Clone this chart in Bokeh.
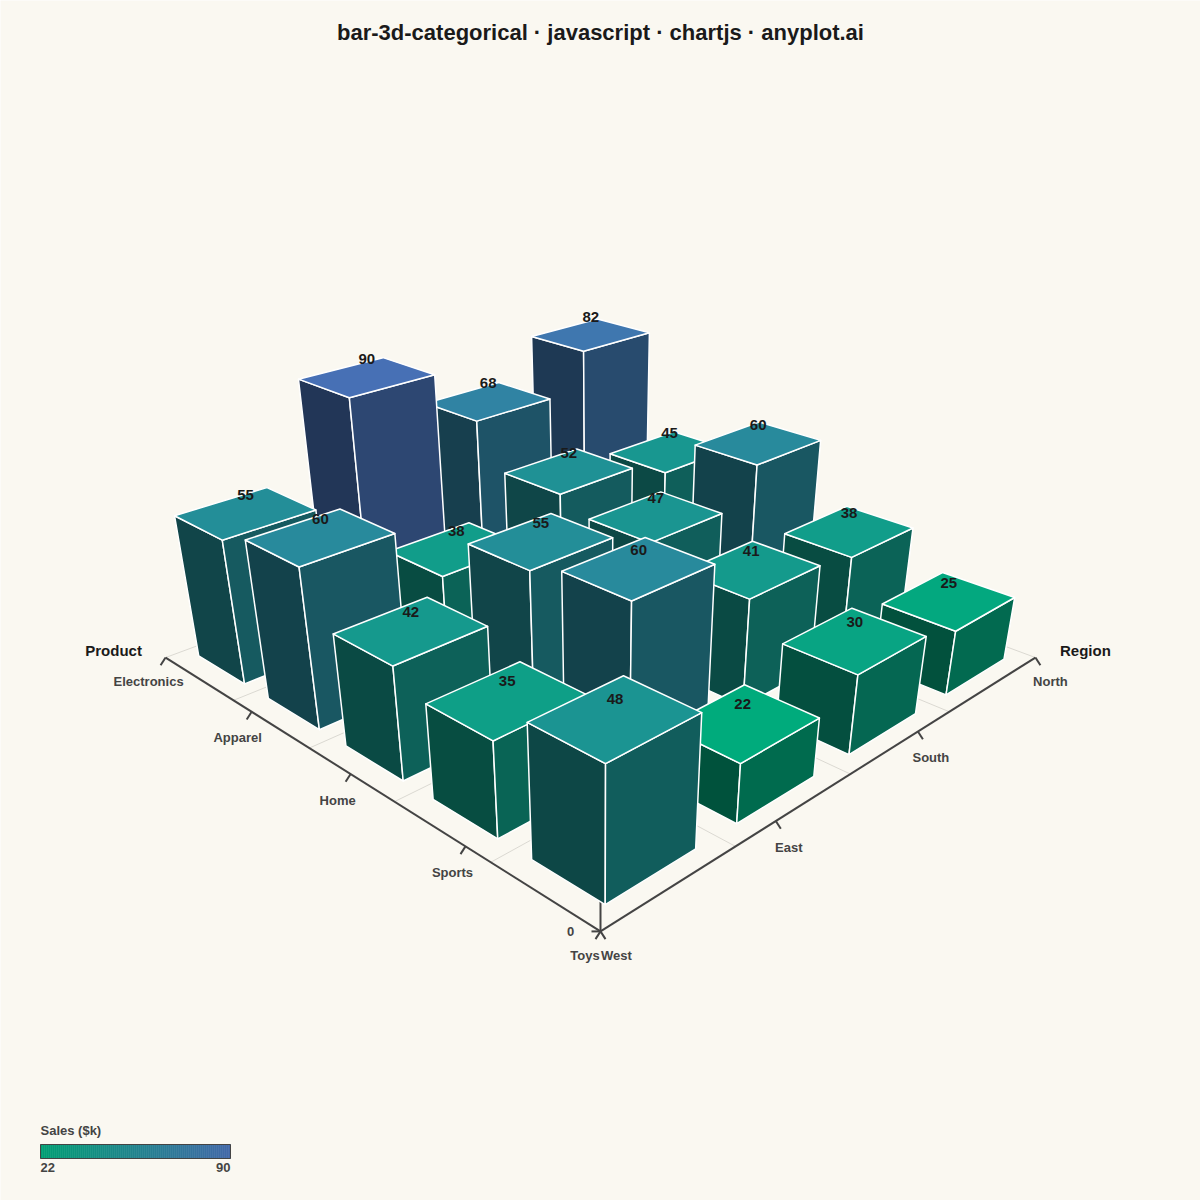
import math
from bokeh.plotting import figure
from bokeh.embed import file_html
from bokeh.resources import INLINE
from bokeh.core.properties import value

TITLE = "bar-3d-categorical · javascript · chartjs · anyplot.ai"
products = ["Electronics", "Apparel", "Home", "Sports", "Toys"]
regions = ["North", "South", "East", "West"]
electronics = [82, 68, 90, 55]
apparel = [45, 52, 38, 60]
home = [60, 47, 55, 42]
sports = [38, 41, 60, 35]
toys = [25, 30, 22, 48]
sales = [electronics, apparel, home, sports, toys]
legend_title = "Sales ($k)"
low_color = (0, 158, 115)
high_color = (66, 104, 168)
BG = "#FAF8F1"
INK = "#444444"
DARK = "#1A1A1A"
FONT = value("Liberation Sans")

# pinhole camera looking along the floor diagonal
PITCH = math.radians(30.9)
SN, CS = math.sin(PITCH), math.cos(PITCH)
SN_Z = 0.55
DIST, FOCAL, CX, CY, Z_SHIFT = 4.676, 1438.0, 600.0, 736.2, 0.3
Z_PER_UNIT = 0.0088
Z_DEPTH_GAIN = 0.025
BAR_FILL = 0.67


def project(u, v, z=0.0):
    """u: floor position along Product, v: along Region, both -1..1; z: height."""
    r = (v - u) / math.sqrt(2)
    s = (u + v) / math.sqrt(2)
    yc = (z + Z_SHIFT) * CS + s * SN
    zc = DIST + s * CS - z * SN_Z
    return CX + FOCAL * r / zc, CY - FOCAL * yc / zc


def mix(val, gain):
    t = (val - 22) / (90 - 22)
    return "#%02x%02x%02x" % tuple(
        min(255, round((a + (b - a) * t) * gain)) for a, b in zip(low_color, high_color)
    )


p = figure(width=1200, height=1200, x_range=(0, 1200), y_range=(1200, 0),
           x_axis_type=None, y_axis_type=None, toolbar_location=None,
           output_backend="svg", min_border=0, outline_line_color=None,
           background_fill_color=BG, border_fill_color=BG)
p.grid.visible = False

np_, nr = len(products), len(regions)

# floor grid
gx0, gy0, gx1, gy1 = [], [], [], []
for i in range(np_ + 1):
    u = -1 + 2 * i / np_
    a, b = project(u, -1), project(u, 1)
    gx0.append(a[0]); gy0.append(a[1]); gx1.append(b[0]); gy1.append(b[1])
for j in range(nr + 1):
    v = -1 + 2 * j / nr
    a, b = project(-1, v), project(1, v)
    gx0.append(a[0]); gy0.append(a[1]); gx1.append(b[0]); gy1.append(b[1])
p.segment(gx0, gy0, gx1, gy1, line_color="#DBD9D2", line_width=1)

# axes
origin = project(-1, -1)
left_end, right_end = project(1, -1), project(-1, 1)
top_end = project(-1, -1, 90 * Z_PER_UNIT)
ax0, ay0, ax1, ay1 = [], [], [], []
for end in (left_end, right_end, top_end):
    ax0.append(origin[0]); ay0.append(origin[1]); ax1.append(end[0]); ay1.append(end[1])
ax0.append(origin[0]); ay0.append(origin[1]); ax1.append(origin[0] - 9); ay1.append(origin[1])

product_nudge = [(-17, 24), (-14, 26), (-13, 26), (-13, 26), (-15.5, 24)]
region_nudge = [(15, 24), (13, 26), (13, 26), (16, 24)]
lx, ly, lt = [], [], []
for i, name in enumerate(products):
    u = 1 - 2 * i / (np_ - 1)
    t = project(u, -1)
    ax0.append(t[0]); ay0.append(t[1]); ax1.append(t[0] - 5); ay1.append(t[1] + 7.7)
    lx.append(t[0] + product_nudge[i][0]); ly.append(t[1] + product_nudge[i][1]); lt.append(name)
for j, name in enumerate(regions):
    v = 1 - 2 * j / (nr - 1)
    t = project(-1, v)
    ax0.append(t[0]); ay0.append(t[1]); ax1.append(t[0] + 5); ay1.append(t[1] + 7.7)
    lx.append(t[0] + region_nudge[j][0]); ly.append(t[1] + region_nudge[j][1]); lt.append(name)
p.segment(ax0, ay0, ax1, ay1, line_color=INK, line_width=2)

# bars, far ones first
bars = []
for i in range(np_):
    for j in range(nr):
        cu = 1 - 2 * (i + 0.5) / np_
        cv = 1 - 2 * (j + 0.5) / nr
        bars.append((cu + cv, cu, cv, sales[i][j]))
bars.sort(key=lambda b: -b[0])

hu, hv = BAR_FILL / np_, BAR_FILL / nr
fx, fy, fc = [], [], []
tx, ty, tt = [], [], []
for depth, cu, cv, val in bars:
    z = val * Z_PER_UNIT * (1 + Z_DEPTH_GAIN * depth / math.sqrt(2))
    u0, u1, v0, v1 = cu - hu, cu + hu, cv - hv, cv + hv
    faces = [
        ([(u1, v0, 0), (u0, v0, 0), (u0, v0, z), (u1, v0, z)], 0.52),
        ([(u0, v0, 0), (u0, v1, 0), (u0, v1, z), (u0, v0, z)], 0.68),
        ([(u0, v0, z), (u0, v1, z), (u1, v1, z), (u1, v0, z)], 1.08),
    ]
    for pts, gain in faces:
        q = [project(*pt) for pt in pts]
        fx.append([a for a, _ in q]); fy.append([b for _, b in q]); fc.append(mix(val, gain))
    c = project(cu, cv, z)
    tx.append(c[0]); ty.append(c[1]); tt.append(str(val))
p.patches(fx, fy, fill_color=fc, line_color="#FFFFFF", line_width=1.5, line_join="round")

p.text(tx, ty, text=tt, text_font=FONT, text_font_style="bold", text_font_size="15px",
       text_color=DARK, text_align="center", text_baseline="middle", y_offset=-18)

# tick labels
p.text(lx, ly, text=lt, text_font=FONT, text_font_style="bold", text_font_size="13px",
       text_color=INK, text_align="center", text_baseline="middle")
p.text([origin[0] - 30], [origin[1]], text=["0"], text_font=FONT, text_font_style="bold",
       text_font_size="13px", text_color=INK, text_align="center", text_baseline="middle")

# axis names
p.text([left_end[0] - 52, right_end[0] + 50], [left_end[1] - 7, right_end[1] - 7],
       text=["Product", "Region"], text_font=FONT, text_font_style="bold",
       text_font_size="15px", text_color=DARK, text_align="center", text_baseline="middle")

# title
p.text([600], [32], text=[TITLE], text_font=FONT, text_font_style="bold",
       text_font_size="22px", text_color=DARK, text_align="center", text_baseline="middle")

# colour legend
steps = 95
left, right, top, bottom = 40, 230, 1144, 1158
edges = [left + (right - left) * k / steps for k in range(steps + 1)]
cols = [mix(22 + (90 - 22) * (k + 0.5) / steps, 1.0) for k in range(steps)]
p.quad(left=edges[:-1], right=edges[1:], top=[top] * steps, bottom=[bottom] * steps,
       fill_color=cols, line_color=cols, line_width=0.5)
p.quad(left=[left], right=[right], top=[top], bottom=[bottom], fill_color=None,
       line_color=INK, line_width=1)
p.text([left], [1130], text=[legend_title], text_font=FONT, text_font_style="bold",
       text_font_size="13px", text_color=INK, text_align="left", text_baseline="middle")
p.text([left], [1167], text=["22"], text_font=FONT, text_font_style="bold",
       text_font_size="13px", text_color=INK, text_align="left", text_baseline="middle")
p.text([right], [1167], text=["90"], text_font=FONT, text_font_style="bold",
       text_font_size="13px", text_color=INK, text_align="right", text_baseline="middle")

html = file_html(p, INLINE)
html = html.replace("<body>", '<body style="margin:0;overflow:hidden;background:%s">' % BG, 1)
open("out.html", "w").write(html)
